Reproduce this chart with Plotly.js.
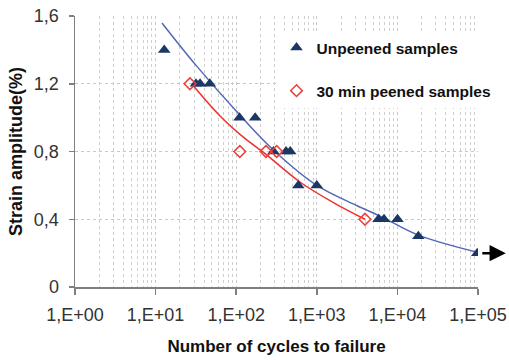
<!DOCTYPE html>
<html>
<head>
<meta charset="utf-8">
<script src="https://cdn.plot.ly/plotly-3.0.1.min.js"></script>
<style>html,body{margin:0;padding:0;background:#fff;}#chart{width:509px;height:360px;}</style>
</head>
<body>
<div id="chart"></div>
<script>
// Unpeened samples (triangles)
const unpeenedCycles = [12.8, 31.7, 35.6, 47, 110, 172, 290, 415, 468, 590, 1000, 5830, 6820, 10030, 18200, 98000];
const unpeenedStrain = [1.4, 1.2, 1.2, 1.2, 1.0, 1.0, 0.8, 0.8, 0.8, 0.6, 0.6, 0.4, 0.4, 0.4, 0.3, 0.2];
// 30 min peened samples (diamonds)
const peenedCycles = [26.7, 111, 234, 318, 3960];
const peenedStrain = [1.2, 0.8, 0.8, 0.8, 0.4];
// Fitted curves
const unpeenedFitCycles = [12, 31.6, 111, 303, 1000, 3162, 6380, 18200, 98000];
const unpeenedFitStrain = [1.559, 1.31, 1.015, 0.80, 0.60, 0.48, 0.414, 0.306, 0.205];
const peenedFitCycles = [28, 63, 126, 224, 617, 1585, 3960];
const peenedFitStrain = [1.2, 1.01, 0.88, 0.79, 0.62, 0.5, 0.40];
// Axis ticks
const xTickVals = [1, 10, 100, 1000, 10000, 100000];
const xTickText = ["1,E+00", "1,E+01", "1,E+02", "1,E+03", "1,E+04", "1,E+05"];
const yTickVals = [0, 0.4, 0.8, 1.2, 1.6];
const yTickText = ["0", "0,4", "0,8", "1,2", "1,6"];
// Run-out point
const runoutCycles = [98000];
const runoutStrain = [0.2];

const FONT = "Liberation Sans, Arial, sans-serif";
const traces = [
  {x: unpeenedFitCycles, y: unpeenedFitStrain, mode: "lines", line: {color: "#5468b8", width: 1.5, shape: "spline"}, showlegend: false, hoverinfo: "skip"},
  {x: peenedFitCycles, y: peenedFitStrain, mode: "lines", line: {color: "#ee3030", width: 1.5, shape: "spline"}, showlegend: false, hoverinfo: "skip"},
  {x: unpeenedCycles, y: unpeenedStrain, mode: "markers", name: "Unpeened samples", legendgroup: "a",
   marker: {symbol: "triangle-up", size: 11, color: "#1b3766"}},
  {x: peenedCycles, y: peenedStrain, mode: "markers", name: "30 min peened samples", legendgroup: "b",
   marker: {symbol: "diamond-open", size: 9, color: "#e8413c", line: {width: 1.5, color: "#e8413c"}}}
];

const layout = {
  width: 509, height: 360,
  margin: {l: 75, r: 31, t: 16, b: 73},
  paper_bgcolor: "#fff", plot_bgcolor: "#fff",
  font: {family: FONT, color: "#222"},
  showlegend: true,
  legend: {x: 0.5, y: 0.945, xanchor: "left", yanchor: "top", bgcolor: "#fff",
           font: {family: FONT, size: 15.5, color: "#111", weight: "bold"},
           traceorder: "grouped", tracegroupgap: 20},
  xaxis: {
    type: "log", range: [0, 5],
    tickvals: xTickVals, ticktext: xTickText,
    ticks: "outside", ticklen: 6, tickcolor: "#7f7f7f", tickwidth: 1.5,
    ticklabelstandoff: 5,
    showline: true, linecolor: "#7f7f7f", linewidth: 1.5,
    showgrid: true, gridcolor: "#c8c8c8", griddash: "dot", gridwidth: 1,
    minor: {dtick: "D1", showgrid: true, gridcolor: "#cfcfcf", griddash: "dot", gridwidth: 1, ticks: ""},
    zeroline: false,
    tickfont: {family: FONT, size: 18, color: "#333"},
    title: {text: "Number of cycles to failure", font: {family: FONT, size: 17, color: "#111", weight: "bold"}, standoff: 16}
  },
  yaxis: {
    range: [0, 1.6],
    tickvals: yTickVals, ticktext: yTickText,
    ticks: "outside", ticklen: 5, tickcolor: "#7f7f7f", tickwidth: 1.5,
    ticklabelstandoff: 6,
    showline: true, linecolor: "#7f7f7f", linewidth: 1.5,
    showgrid: true, gridcolor: "#c8c8c8", griddash: "dot", gridwidth: 1,
    zeroline: false,
    tickfont: {family: FONT, size: 18, color: "#333"},
    title: {text: "Strain amplitude(%)", font: {family: FONT, size: 18, color: "#111", weight: "bold"}, standoff: 6}
  },
  annotations: [{
    // tail at the run-out point (kept clear of the marker), head drawn at the text end to the right
    x: Math.log10(runoutCycles[0]), y: runoutStrain[0], xref: "x", yref: "y",
    ax: 30, ay: 0, arrowside: "start", standoff: 5, startstandoff: 0,
    showarrow: true, arrowhead: 2, startarrowhead: 2, arrowsize: 1.3, startarrowsize: 1.3,
    arrowwidth: 2.5, arrowcolor: "#000", text: " ", font: {size: 1}
  }]
};

Plotly.newPlot("chart", traces, layout, {displayModeBar: false, staticPlot: true});
</script>
</body>
</html>
